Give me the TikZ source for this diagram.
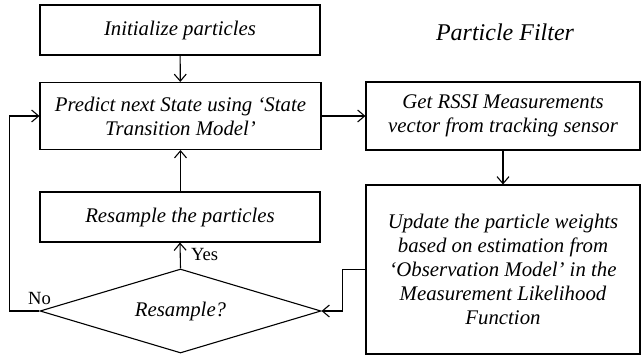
\documentclass[tikz,border=0pt]{standalone}
\usepackage{fontspec}
\setmainfont{Liberation Serif}
\usetikzlibrary{shapes.geometric,arrows.meta}
\begin{document}
\begin{tikzpicture}[x=1pt,y=-1pt,
  every node/.style={font=\fontsize{20.8}{24}\selectfont\itshape},
  box/.style={draw,line width=1.1pt,inner sep=0pt,align=center},
  decision/.style={draw,line width=1.1pt,diamond,inner sep=0pt,shape aspect=3.35,
    minimum width=281pt,minimum height=84pt},
  lbl/.style={font=\fontsize{18.6}{22}\selectfont\upshape},
  arr/.style={line width=1.1pt,-{Straight Barb[length=7pt,width=12pt]}}]
\useasboundingbox (0,0) rectangle (642,356);

\node[box,minimum width=280pt,minimum height=50pt] (init) at (180,30) {Initialize particles};
\node[box,minimum width=281pt,minimum height=67pt] (predict) at (180.5,116)
  {Predict next State using ‘State\\Transition Model’};
\node[box,minimum width=274pt,minimum height=68pt] (rssi) at (503,116)
  {Get RSSI Measurements\\vector from tracking sensor};
\node[box,minimum width=274pt,minimum height=169pt] (update) at (503,269.5)
  {Update the particle weights\\based on estimation from\\‘Observation Model’ in the\\Measurement Likelihood\\Function};
\node[box,minimum width=280pt,minimum height=50pt] (resample) at (180,217) {Resample the particles};
\node[decision] (dec) at (180.5,311) {Resample?};

\node[font=\fontsize{24}{28}\selectfont\itshape] (title) at (505,32) {Particle Filter};

\draw[arr] (init) -- (predict);
\draw[arr] (predict) -- (rssi);
\draw[arr] (rssi) -- (update);
\draw[arr] (resample.north -| predict.south) -- (predict.south);
\draw[arr] (dec.north) -- node[lbl,right,xshift=7pt,yshift=1pt] (yes) {Yes} (resample.south);
\draw[arr] (dec.west) -- ++(-30,0) |- (predict.west);
\node[lbl,anchor=south] (no) at ([yshift=3pt]dec.west) {No};
\draw[arr] (update.west) -- ++(-23,0) |- (dec.east);
\end{tikzpicture}
\end{document}
